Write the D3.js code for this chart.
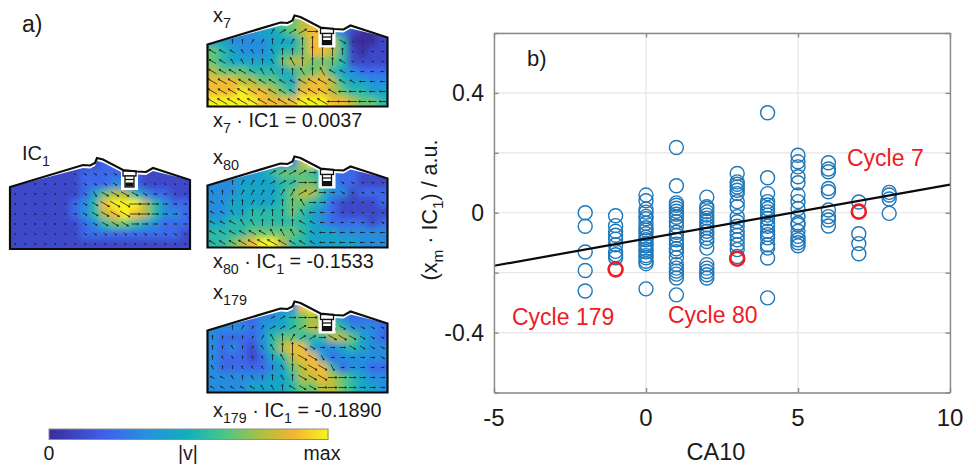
<!DOCTYPE html>
<html>
<head>
<script src="https://cdn.jsdelivr.net/npm/d3@7"></script>
<style>
body { margin: 0; background: #fff; }
svg { display: block; }
text { font-family: "Liberation Sans", Arial, sans-serif; fill: #1a1a1a; }
.grid line { stroke: #e6e6e6; stroke-width: 1.2; }
.axis path, .axis line { stroke: #8a8a8a; stroke-width: 1.4; }
</style>
</head>
<body>
<svg id="svg" width="976" height="465"></svg>
<script>
// scatter, one list per CA10 value
const ca10Values = [-2, -1, 0, 1, 2, 3, 4, 5, 6, 7, 8];
const projections = [
  [0, -0.045, -0.131, -0.193, -0.261],
  [-0.01, -0.043, -0.062, -0.075, -0.088, -0.107, -0.129, -0.14, -0.15],
  [0.059, 0.04, 0.012, 0.002, -0.012, -0.02, -0.035, -0.05, -0.058, -0.07, -0.082, -0.09, -0.103, -0.11, -0.122, -0.13, -0.143, -0.15, -0.162, -0.17, -0.254],
  [0.218, 0.09, 0.033, 0.025, 0.015, 0.005, -0.005, -0.015, -0.03, -0.045, -0.065, -0.075, -0.09, -0.105, -0.12, -0.13, -0.15, -0.173, -0.185, -0.195, -0.205, -0.218, -0.274],
  [0.052, 0.02, 0.014, 0.003, -0.008, -0.018, -0.029, -0.04, -0.05, -0.062, -0.073, -0.085, -0.096, -0.118, -0.173, -0.185, -0.196, -0.207, -0.218],
  [0.131, 0.103, 0.095, 0.086, 0.075, 0.064, 0.037, 0.02, -0.013, -0.03, -0.045, -0.062, -0.075, -0.09, -0.107, -0.123, -0.146],
  [0.334, 0.117, 0.064, 0.037, 0.026, 0.014, 0.003, -0.008, -0.019, -0.035, -0.045, -0.062, -0.073, -0.084, -0.107, -0.118, -0.151, -0.284],
  [0.192, 0.17, 0.153, 0.12, 0.1, 0.059, 0.037, 0.014, -0.013, -0.034, -0.04, -0.062, -0.079, -0.09, -0.1, -0.11],
  [0.167, 0.146, 0.137, 0.081, 0.07, 0.009, -0.013, -0.024, -0.044],
  [0.036, -0.07, -0.103, -0.137],
  [0.068, 0.059, 0.046, -0.002]
];
const highlightCa10 = [-1, 3, 7];
const highlightValues = [-0.189, -0.1533, 0.0037];
const fitCa10 = [-5, 10];
const fitValues = [-0.177, 0.094];
const xTicks = [-5, 0, 5, 10];
const yTicks = [-0.6, -0.4, -0.2, 0, 0.2, 0.4, 0.6];
const yLabels = ["-0.4", "0", "0.4"];

// velocity maps: |v| level 0-9 per cell, top row first
const heatIC1 = [
  "111111111222221111",
  "111111122222211111",
  "111111122233211111",
  "111111124677532211",
  "111111235899975322",
  "111111235789875332",
  "111111123566543222",
  "111111122222222221",
  "111111111111111111"
];
const heatX7 = [
  "333334566787543111",
  "333334456788521001",
  "443333444688750001",
  "654333455688751011",
  "654444467766651111",
  "766655545667543222",
  "888776654788754433",
  "888988765888765544",
  "999998888999887665"
];
const heatX80 = [
  "111122333796111111",
  "333334566654222111",
  "333444455665322111",
  "333444456775331222",
  "334444456654211112",
  "334455556543211111",
  "445555555543222212",
  "555566666544433333",
  "556789975544444333"
];
const heatX179 = [
  "222222233896222222",
  "222223345676532222",
  "333323445677653332",
  "322223566555776432",
  "323213578843345433",
  "322212457884233333",
  "322222346788523322",
  "333333445778765433",
  "333344445667765443"
];
// flow direction per cell as a clock hour in hex (0 = up, 3 = right)
const dirIC1 = [
  "444444444444444444",
  "444444444444444444",
  "333333444444444444",
  "333334445444443333",
  "333333344444333333",
  "333333344444333333",
  "333333344444333333",
  "444444444444444444",
  "333333333333333333"
];
const dirX7 = [
  "000000000222333333",
  "111111122233344444",
  "000011011000044433",
  "aaabb0b00000004433",
  "aabb00b0b0000a4433",
  "aaaaabb00b0baa9999",
  "aaaaaaaaaaaaaaa999",
  "aaaaaaaaaaaaa99999",
  "aaaaaaaaaaaa999999"
];
const dirX80 = [
  "000000223333333333",
  "000001222233344444",
  "b00111222333344444",
  "b00111111223344443",
  "ab0011100b33433334",
  "aab001000b99333444",
  "aaabb0000aa9993334",
  "aaaaaabbbaa9999999",
  "aaaaaaaaaaa9999999"
];
const dirX179 = [
  "000111223333333333",
  "000111223333344444",
  "000111222233444444",
  "000011b01223444444",
  "00b01bb00443334444",
  "0bb0bb0b0445333334",
  "b00bbb0b0444533333",
  "aab0b00b0444333333",
  "aaaaabb0a443333333"
];
const colorStops = [0, 0.2, 0.35, 0.5, 0.62, 0.75, 0.87, 1];
const colorValues = ["#3a2d9c", "#3f62ec", "#2592dc", "#12b0bc", "#45c68c", "#a5c243", "#f2b233", "#f8f51e"];

const svg = d3.select("#svg");
const color = d3.scaleLinear().domain(colorStops).range(colorValues);

// rich text: parts are [string, isSubscript]
function richText(parent, x, y, size, parts) {
  const t = parent.append("text").attr("x", x).attr("y", y).attr("font-size", size);
  parts.forEach(p => {
    const s = t.append("tspan").text(p[0]);
    if (p[1]) s.attr("dy", size * 0.28).attr("font-size", size * 0.72);
    else s.attr("dy", p[2] ? -size * 0.28 : 0);
  });
  return t;
}

// ---- panel a: chamber outline in px relative to bottom left corner
const roof = [[0, -62], [73, -84], [80, -83.5], [85, -86], [87, -91], [93, -89.5], [113, -79], [127, -77.5], [136, -77], [143, -81], [180, -69], [180, 0], [0, 0]];
const gap = roof.map(p => [p[0], p[1] < -2 && p[0] > 0 && p[0] < 180 ? p[1] + 3 : p[1]]);

svg.append("defs").append("filter").attr("id", "soft")
  .attr("x", "-10%").attr("y", "-10%").attr("width", "120%").attr("height", "120%")
  .append("feGaussianBlur").attr("stdDeviation", 3.2);
svg.select("defs").append("clipPath").attr("id", "chamber")
  .append("polygon").attr("points", gap.map(p => p.join(",")).join(" "));

function drawPanel(x0, y0, heat, dirs) {
  const g = svg.append("g").attr("transform", `translate(${x0},${y0})`);
  const px = d3.scaleLinear().domain([0, 18]).range([0, 180]);
  const py = d3.scaleLinear().domain([0, 9]).range([-90, 0]);
  const lvl = d3.scaleLinear().domain([0, 9]).range([0, 1]);
  const len = d3.scaleLinear().domain([0, 9]).range([1, 11.5]);

  const cells = [];
  heat.forEach((row, r) => row.split("").forEach((c, i) => {
    cells.push({ r, i, v: +c, hour: parseInt(dirs[r][i], 16) });
  }));

  const clipped = g.append("g").attr("clip-path", "url(#chamber)");
  clipped.append("g").attr("filter", "url(#soft)")
    .selectAll("rect").data(cells).enter().append("rect")
    .attr("x", d => px(d.i) - (d.i === 0 ? 12 : 0))
    .attr("y", d => py(d.r) - (d.r === 0 ? 12 : 0))
    .attr("width", d => 10.5 + (d.i === 0 || d.i === 17 ? 12 : 0))
    .attr("height", d => 10.5 + (d.r === 0 || d.r === 8 ? 12 : 0))
    .attr("fill", d => color(lvl(d.v)));

  // arrows, length follows |v|
  const inside = cells.filter(d => d3.polygonContains(gap, [px(d.i + 0.5), py(d.r + 0.5) - 3]));
  g.append("g").selectAll("path").data(inside).enter().append("path")
    .attr("d", d => {
      const a = d.hour * Math.PI / 6, l = len(d.v);
      const cx = px(d.i + 0.5), cy = py(d.r + 0.5);
      const ux = Math.sin(a), uy = -Math.cos(a);
      const tipx = cx + ux * l / 2, tipy = cy + uy * l / 2;
      const h = Math.min(1.8, 0.5 + l * 0.15);
      return `M${cx - ux * l / 2},${cy - uy * l / 2}L${tipx},${tipy}` +
        `M${tipx - ux * h - uy * h * 0.55},${tipy - uy * h + ux * h * 0.55}L${tipx},${tipy}` +
        `L${tipx - ux * h + uy * h * 0.55},${tipy - uy * h - ux * h * 0.55}`;
    })
    .attr("fill", "none").attr("stroke", "#1c1c1c").attr("stroke-width", 0.8);

  // spark plug
  const plug = g.append("g").attr("stroke", "#111").attr("fill", "#fff");
  plug.append("rect").attr("x", 111).attr("y", -80).attr("width", 17).attr("height", 21).attr("stroke", "none");
  plug.append("rect").attr("x", 113).attr("y", -78).attr("width", 13).attr("height", 5).attr("stroke-width", 1.3);
  plug.append("rect").attr("x", 115).attr("y", -73).attr("width", 9).attr("height", 11).attr("stroke-width", 1.3);
  plug.append("line").attr("x1", 115).attr("x2", 124).attr("y1", -69.5).attr("y2", -69.5).attr("stroke-width", 1.3);
  plug.append("rect").attr("x", 116).attr("y", -66).attr("width", 7).attr("height", 3).attr("fill", "#111");

  g.append("polygon").attr("points", roof.map(p => p.join(",")).join(" "))
    .attr("fill", "none").attr("stroke", "#0d0d0d").attr("stroke-width", 2.2).attr("stroke-linejoin", "miter");
}

drawPanel(10, 249, heatIC1, dirIC1);
drawPanel(207.5, 106.5, heatX7, dirX7);
drawPanel(207.5, 247.5, heatX80, dirX80);
drawPanel(207.5, 392.5, heatX179, dirX179);

richText(svg, 22, 32, 23, [["a)"]]);
richText(svg, 22, 160, 20, [["IC"], ["1", true]]);
richText(svg, 213, 22, 20, [["x"], ["7", true]]);
richText(svg, 213, 164, 20, [["x"], ["80", true]]);
richText(svg, 213, 299, 20, [["x"], ["179", true]]);
richText(svg, 213, 127, 19.8, [["x"], ["7", true], [" · IC1 = 0.0037", false, true]]);
richText(svg, 213, 268, 19.8, [["x"], ["80", true], [" · IC", false, true], ["1", true], [" = -0.1533", false, true]]);
richText(svg, 213, 417, 19.8, [["x"], ["179", true], [" · IC", false, true], ["1", true], [" = -0.1890", false, true]]);

// colour bar
const barX = d3.scaleLinear().domain([0, 1]).range([49, 328]);
svg.append("g").selectAll("rect").data(d3.range(0, 1, 1 / 279)).enter().append("rect")
  .attr("x", d => barX(d)).attr("y", 429).attr("width", 1.6).attr("height", 10.5)
  .attr("fill", d => color(d));
svg.append("rect").attr("x", 49).attr("y", 429).attr("width", 279).attr("height", 10.5)
  .attr("fill", "none").attr("stroke", "#8d8d8d").attr("stroke-width", 1);
[["0", 49], ["|v|", 188], ["max", 322]].forEach(d => {
  svg.append("text").attr("x", d[1]).attr("y", 460).attr("font-size", 19.5).attr("text-anchor", "middle").text(d[0]);
});

// ---- panel b
const x = d3.scaleLinear().domain([-5, 10]).range([494, 950]);
const y = d3.scaleLinear().domain([-0.6, 0.6]).range([392.5, 33]);

const grid = svg.append("g").attr("class", "grid");
grid.selectAll(".gx").data(xTicks).enter().append("line")
  .attr("x1", d => x(d)).attr("x2", d => x(d)).attr("y1", y(-0.6)).attr("y2", y(0.6));
grid.selectAll(".gy").data(yTicks).enter().append("line")
  .attr("x1", x(-5)).attr("x2", x(10)).attr("y1", d => y(d)).attr("y2", d => y(d));

const points = [];
ca10Values.forEach((c, i) => projections[i].forEach(v => points.push([c, v])));
svg.append("g").selectAll("circle").data(points).enter().append("circle")
  .attr("cx", d => x(d[0])).attr("cy", d => y(d[1])).attr("r", 7)
  .attr("fill", "none").attr("stroke", "#1f77b8").attr("stroke-width", 1.4);

svg.append("line")
  .attr("x1", x(fitCa10[0])).attr("y1", y(fitValues[0]))
  .attr("x2", x(fitCa10[1])).attr("y2", y(fitValues[1]))
  .attr("stroke", "#0a0a0a").attr("stroke-width", 2.2);

svg.append("g").selectAll("circle").data(highlightCa10).enter().append("circle")
  .attr("cx", d => x(d)).attr("cy", (d, i) => y(highlightValues[i])).attr("r", 7)
  .attr("fill", "none").attr("stroke", "#ee1c25").attr("stroke-width", 2.6);

svg.append("g").attr("class", "axis").attr("transform", `translate(${x(-5)},0)`)
  .call(d3.axisLeft(y).tickValues(yTicks).tickSize(-4.5).tickSizeOuter(0).tickFormat(""));
svg.append("g").attr("class", "axis").attr("transform", `translate(${x(10)},0)`)
  .call(d3.axisRight(y).tickValues(yTicks).tickSize(-4.5).tickSizeOuter(0).tickFormat(""));
svg.append("g").attr("class", "axis").attr("transform", `translate(0,${y(-0.6)})`)
  .call(d3.axisBottom(x).tickValues(xTicks).tickSize(-4.5).tickSizeOuter(0).tickFormat(""));
svg.append("g").attr("class", "axis").attr("transform", `translate(0,${y(0.6)})`)
  .call(d3.axisTop(x).tickValues(xTicks).tickSize(-4.5).tickSizeOuter(0).tickFormat(""));

svg.append("g").selectAll("text").data(yLabels).enter().append("text")
  .attr("x", 484).attr("y", d => y(+d) + 8).attr("text-anchor", "end").attr("font-size", 23)
  .text(d => d);
svg.append("g").selectAll("text").data(xTicks).enter().append("text")
  .attr("x", d => x(d)).attr("y", 426).attr("text-anchor", "middle").attr("font-size", 24)
  .text(d => d);

svg.append("text").attr("x", 716).attr("y", 460).attr("text-anchor", "middle").attr("font-size", 23.5).text("CA10");
const yl = richText(svg, 0, 0, 21.5, [["(x"], ["m", true], [" · IC", false, true], ["1", true], [") / a.u.", false, true]]);
yl.attr("text-anchor", "middle").attr("transform", "translate(437,210) rotate(-90)");

richText(svg, 527, 66, 22, [["b)"]]);
[["Cycle 7", 847, 166], ["Cycle 179", 512, 325], ["Cycle 80", 668, 323]].forEach(d => {
  svg.append("text").attr("x", d[1]).attr("y", d[2]).attr("font-size", 23).style("fill", "#ee1c25").text(d[0]);
});
</script>
</body>
</html>
